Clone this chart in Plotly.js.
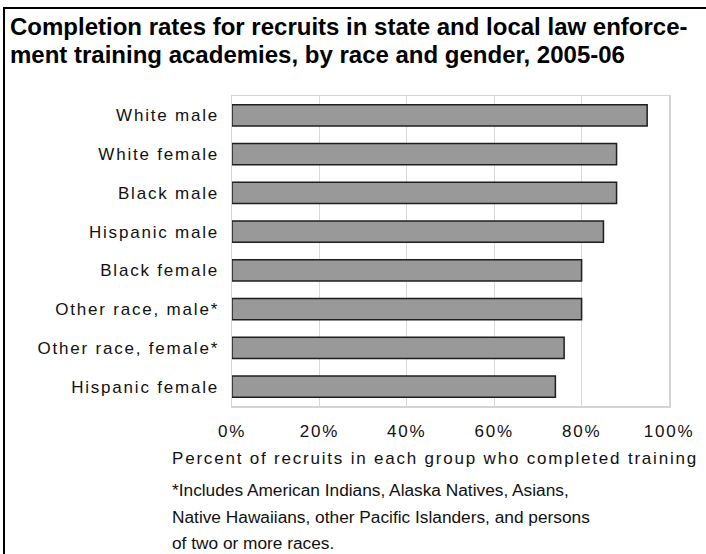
<!DOCTYPE html>
<html>
<head>
<meta charset="utf-8">
<script src="https://cdn.plot.ly/plotly-3.0.1.min.js"></script>
<style>
  html, body { margin: 0; padding: 0; background: #fff; }
  #chart { width: 706px; height: 554px; }
  .xtick text, .ytick text, .annotation[data-index="2"] .annotation-text { letter-spacing: 1.8px; }
</style>
</head>
<body>
<div id="chart"></div>
<script>
const categories = ["White male", "White female", "Black male", "Hispanic male",
                    "Black female", "Other race, male*", "Other race, female*", "Hispanic female"];
const completionRates = [95, 88, 88, 85, 80, 80, 76, 74];
const tickValues = [0, 20, 40, 60, 80, 100];
const tickLabels = ["0%", "20%", "40%", "60%", "80%", "100%"];
const titleLines = ["Completion rates for recruits in state and local law enforce-",
                    "ment training academies, by race and gender, 2005-06"];
const xAxisTitle = "Percent of recruits in each group who completed training";
const footnoteLines = ["*Includes American Indians, Alaska Natives, Asians,",
                       "Native Hawaiians, other Pacific Islanders, and persons",
                       "of two or more races."];

const FONT = "Liberation Sans, Arial, Helvetica, sans-serif";
const W = 706, H = 554;
const L = 232, R = 669, T = 96, B = 406;
const px2x = p => (p - L) / (R - L);
const px2y = p => (B - p) / (B - T);

const trace = {
  type: "bar",
  orientation: "h",
  y: categories,
  x: completionRates,
  width: 0.55,
  marker: { color: "#999999", line: { color: "#1e1e1e", width: 1.5 } },
  hoverinfo: "y+x"
};

const annotations = [];
// title lines (indices 0, 1)
const titleY = [27, 55];
titleLines.forEach((t, i) => annotations.push({
  xref: "paper", yref: "paper", x: px2x(8), y: px2y(titleY[i]),
  xanchor: "left", yanchor: "middle", align: "left", showarrow: false,
  text: "<b>" + t + "</b>", font: { family: FONT, size: 24, color: "#000" }
}));
// x axis title (index 2)
annotations.push({
  xref: "paper", yref: "paper", x: px2x(170), y: px2y(458),
  xanchor: "left", yanchor: "middle", align: "left", showarrow: false,
  text: xAxisTitle, font: { family: FONT, size: 17, color: "#111" }
});
// footnote (indices 3..5)
const footY = [490, 517, 543];
footnoteLines.forEach((t, i) => annotations.push({
  xref: "paper", yref: "paper", x: px2x(170), y: px2y(footY[i]),
  xanchor: "left", yanchor: "middle", align: "left", showarrow: false,
  text: t, font: { family: FONT, size: 17.3, color: "#111" }
}));

const layout = {
  width: W, height: H,
  margin: { l: L, r: W - R, t: T, b: H - B, pad: 0 },
  paper_bgcolor: "#fff", plot_bgcolor: "#fff",
  showlegend: false,
  bargap: 0.45,
  xaxis: {
    range: [0, 100], tickvals: tickValues, ticktext: tickLabels,
    showgrid: true, gridcolor: "#d9d9d9", gridwidth: 1,
    showline: true, linecolor: "#d4d4d4", linewidth: 1.5, mirror: true,
    zeroline: false, ticks: "", ticklabelstandoff: 9,
    tickfont: { family: FONT, size: 17, color: "#111" },
    fixedrange: true
  },
  yaxis: {
    type: "category", categoryorder: "array", categoryarray: categories,
    autorange: "reversed",
    showgrid: false, showline: true, linecolor: "#d4d4d4", linewidth: 1.5, mirror: true,
    zeroline: false, ticks: "", ticklabelstandoff: 8,
    tickfont: { family: FONT, size: 17, color: "#111" },
    fixedrange: true
  },
  annotations: annotations,
  shapes: [
    { type: "line", xref: "paper", yref: "paper", x0: px2x(4), x1: px2x(710), y0: px2y(8), y1: px2y(8),
      line: { color: "#000", width: 2 } },
    { type: "line", xref: "paper", yref: "paper", x0: px2x(4), x1: px2x(4), y0: px2y(7), y1: px2y(560),
      line: { color: "#000", width: 2 } }
  ]
};

Plotly.newPlot("chart", [trace], layout, { displayModeBar: false, staticPlot: true });
</script>
</body>
</html>
